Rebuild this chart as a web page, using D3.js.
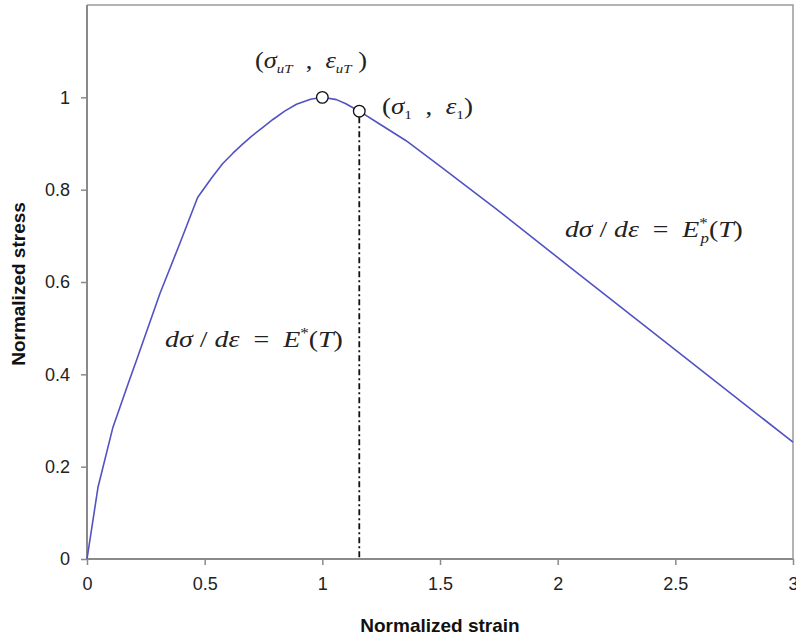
<!DOCTYPE html>
<html>
<head>
<meta charset="utf-8">
<script src="https://cdn.jsdelivr.net/npm/d3@7"></script>
<style>
  html, body { margin: 0; padding: 0; background: #fff; }
  svg { display: block; }
</style>
</head>
<body>
<script>
// ---- data ----
const strain = [0, 0.047, 0.11, 0.18, 0.21, 0.31, 0.394, 0.47, 0.53, 0.576, 0.62, 0.66, 0.70, 0.75, 0.79, 0.84, 0.89, 0.95, 1.0, 1.06, 1.1, 1.157, 1.25, 1.356, 1.5, 1.737, 2.06, 2.5, 3.0];
const stress = [0, 0.156, 0.285, 0.387, 0.43, 0.575, 0.683, 0.783, 0.826, 0.856, 0.879, 0.898, 0.916, 0.936, 0.952, 0.97, 0.985, 0.996, 1.0, 0.995, 0.986, 0.97, 0.94, 0.906, 0.851, 0.759, 0.629, 0.453, 0.253];
const markerStrain = [1.0, 1.157];
const markerStress = [1.0, 0.97];
const xTicks = [0, 0.5, 1, 1.5, 2, 2.5, 3];
const yTicks = [0, 0.2, 0.4, 0.6, 0.8, 1];
const xLabel = "Normalized strain";
const yLabel = "Normalized stress";

const W = 796, H = 643;
const margin = { top: 5, right: 3, bottom: 84, left: 87 };

const svg = d3.select("body").append("svg").attr("width", W).attr("height", H);

const x = d3.scaleLinear().domain([0, 3]).range([margin.left, W - margin.right]);
const y = d3.scaleLinear().domain([0, 1.2]).range([H - margin.bottom, margin.top]);

// frame (top & right)
svg.append("path")
  .attr("d", `M${x(0)},${y(1.2)}H${x(3)}V${y(0)}`)
  .attr("fill", "none").attr("stroke", "#9a9a9a").attr("stroke-width", 1.5);

// axes
const xAxis = svg.append("g").attr("transform", `translate(0,${y(0)})`)
  .call(d3.axisBottom(x).tickValues(xTicks).tickFormat(d3.format("~g")).tickSize(6).tickPadding(12).tickSizeOuter(0));
const yAxis = svg.append("g").attr("transform", `translate(${x(0)},0)`)
  .call(d3.axisLeft(y).tickValues(yTicks).tickFormat(d3.format("~g")).tickSize(6).tickPadding(11).tickSizeOuter(0));

yAxis.select(".domain").attr("d", `M0,${y(0)}V${y(1.2)}`);
xAxis.select(".domain").attr("d", `M${x(0)},0H${x(3)}`);

[xAxis, yAxis].forEach(g => {
  g.select(".domain").attr("stroke", "#8a8a8a").attr("stroke-width", 2);
  g.selectAll(".tick line").attr("stroke", "#8a8a8a").attr("stroke-width", 1.5);
  g.selectAll(".tick text")
    .attr("fill", "#222")
    .style("font-family", "'Liberation Sans', Arial, sans-serif")
    .style("font-size", "18px");
});

// axis titles
svg.append("text")
  .attr("x", x(1.5)).attr("y", 632)
  .attr("text-anchor", "middle")
  .style("font-family", "'Liberation Sans', Arial, sans-serif")
  .style("font-size", "19px").style("font-weight", "bold").attr("fill", "#111")
  .text(xLabel);
svg.append("text")
  .attr("transform", `translate(25,${284}) rotate(-90)`)
  .attr("text-anchor", "middle")
  .style("font-family", "'Liberation Sans', Arial, sans-serif")
  .style("font-size", "19px").style("font-weight", "bold").attr("fill", "#111")
  .text(yLabel);

// dash-dot vertical line
svg.append("line")
  .attr("x1", x(markerStrain[1])).attr("x2", x(markerStrain[1]))
  .attr("y1", y(markerStress[1]) + 6).attr("y2", y(0))
  .attr("stroke", "#111").attr("stroke-width", 1.8)
  .attr("stroke-dasharray", "6,3,2,3");

// curve
const pts = strain.map((s, i) => [s, stress[i]]);
svg.append("path")
  .datum(pts)
  .attr("fill", "none")
  .attr("stroke", "#5252c2")
  .attr("stroke-width", 1.6)
  .attr("stroke-linejoin", "round")
  .attr("d", d3.line().x(d => x(d[0])).y(d => y(d[1])).curve(d3.curveLinear));

// markers
svg.selectAll("circle.m")
  .data(markerStrain.map((s, i) => [s, markerStress[i]]))
  .enter().append("circle")
  .attr("class", "m")
  .attr("cx", d => x(d[0])).attr("cy", d => y(d[1]))
  .attr("r", 5.8)
  .attr("fill", "#fff").attr("stroke", "#111").attr("stroke-width", 1.3);

// annotations (Times-like italic math), stretched horizontally to the reference width
const serif = "'Liberation Serif', 'Times New Roman', serif";
function mathText(xp, yp, len, parts) {
  const g = svg.append("g");
  const t = g.append("text").attr("x", 0).attr("y", 0)
    .style("font-family", serif).style("font-size", "23px").attr("fill", "#222")
    .attr("xml:space", "preserve");
  parts.forEach(p => {
    const ts = t.append("tspan").text(p.t);
    if (p.i) ts.style("font-style", "italic");
    if (p.dy) ts.attr("dy", p.dy);
    if (p.s) ts.style("font-size", p.s);
    if (p.dx) ts.attr("dx", p.dx);
  });
  const bb = t.node().getBBox();
  const k = len / bb.width;
  g.attr("transform", `translate(${xp - bb.x * k},${yp}) scale(${k},1)`);
  return t;
}

mathText(255, 68, 112, [
  { t: "(" }, { t: "σ", i: 1 }, { t: "uT", i: 1, s: "13px", dy: 5 },
  { t: "  ,  ", dy: -5 }, { t: "ε", i: 1 }, { t: "uT", i: 1, s: "13px", dy: 5 },
  { t: " )", dy: -5 }
]);
mathText(382, 114, 91, [
  { t: "(" }, { t: "σ", i: 1 }, { t: "1", s: "13px", dy: 5 },
  { t: "  ,  ", dy: -5 }, { t: "ε", i: 1 }, { t: "1", s: "13px", dy: 5 },
  { t: ")", dy: -5 }
]);
mathText(165, 347, 178, [
  { t: "dσ", i: 1 }, { t: " / " }, { t: "dε", i: 1 }, { t: "  =  " },
  { t: "E", i: 1 }, { t: "*", s: "14px", dy: -9 }, { t: "(", dy: 9 }, { t: "T", i: 1 }, { t: ")" }
]);
mathText(565, 237, 178, [
  { t: "dσ", i: 1 }, { t: " / " }, { t: "dε", i: 1 }, { t: "  =  " },
  { t: "E", i: 1 }, { t: "*", s: "14px", dy: -9 }, { t: "p", i: 1, s: "14px", dx: -6, dy: 15 },
  { t: "(", dy: -6 }, { t: "T", i: 1 }, { t: ")" }
]);
</script>
</body>
</html>
